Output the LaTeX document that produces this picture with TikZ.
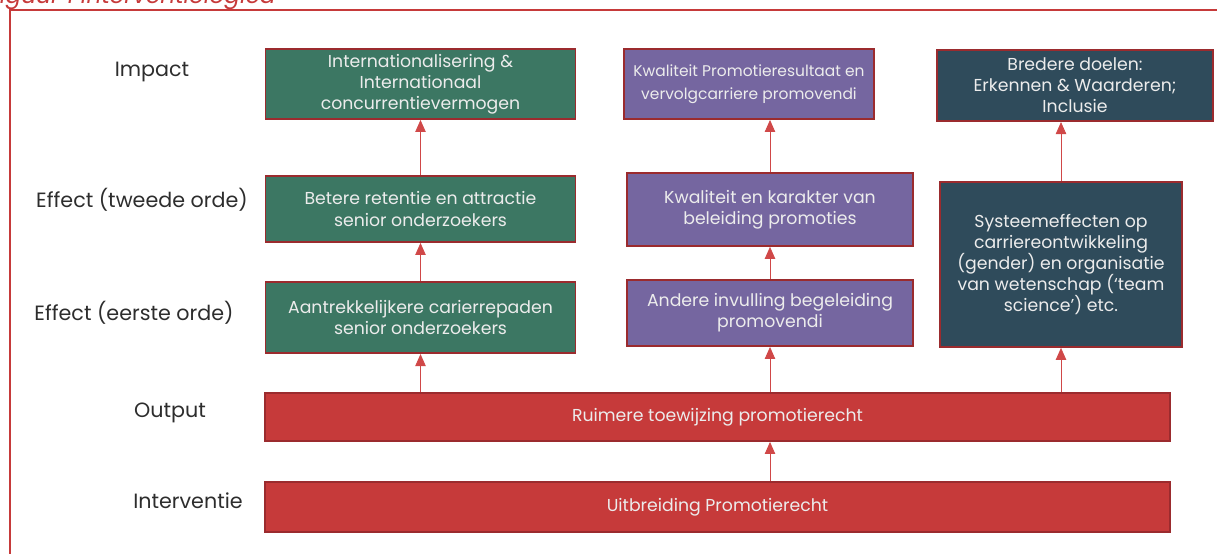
\documentclass[tikz,border=0pt]{standalone}
\usepackage{fontspec}
\setmainfont{Poppins}
\usetikzlibrary{arrows.meta}
\definecolor{grn}{RGB}{60, 119, 99}
\definecolor{prp}{RGB}{117, 102, 160}
\definecolor{drk}{RGB}{47, 75, 91}
\definecolor{rd}{RGB}{198, 58, 58}
\definecolor{rim}{RGB}{155, 43, 46}
\definecolor{lnk}{RGB}{208, 72, 72}
\definecolor{txt}{RGB}{236, 236, 236}
\definecolor{lbl}{RGB}{45, 45, 45}

\tikzset{
    box/.style={draw=rim, line width=1.3pt, text=txt, align=center, inner sep=0pt,
        font=\fontsize{12.3}{15}\selectfont},
    lvl/.style={text=lbl, font=\fontsize{14.7}{17}\selectfont},
    up/.style={draw=lnk, line width=0.6pt, -{Triangle[length=3mm, width=2.6mm]}}
}

\begin{document}
\begin{tikzpicture}[x=0.025cm, y=-0.025cm]
        \useasboundingbox (0, 0) rectangle (1217, 553);
        % frame and caption
        \draw[rd, line width=1.2pt] (10, 580) -- (10, 10) -- (1240, 10);
        \node[anchor=base west, text=rd, inner sep=0pt, font=\fontsize{16.5}{18}\selectfont\itshape] (cap) at (-12, 3) {Figuur 1 Interventielogica};

        % levels
        \node[lvl] (limp) at (152, 72) {Impact};
        \node[lvl] (leff2) at (142, 200) {Effect (tweede orde)};
        \node[lvl] (leff1) at (134, 313) {Effect (eerste orde)};
        \node[lvl] (lout) at (170, 413) {Output};
        \node[lvl] (lint) at (188, 501) {Interventie};

        % bottom bars
        \node[box, fill=rd, minimum width=22.6cm, minimum height=1.25cm] (interv) at (717.5, 507) {Uitbreiding Promotierecht};
        \node[box, fill=rd, minimum width=22.6cm, minimum height=1.2cm] (output) at (717.5, 417) {Ruimere toewijzing promotierecht};

        % green column
        \node[box, fill=grn, minimum width=7.75cm, minimum height=1.78cm] (gr1) at (420.5, 317.5) {Aantrekkelijkere carierrepaden\\senior onderzoekers};
        \node[box, fill=grn, minimum width=7.75cm, minimum height=1.65cm] (gr2) at (420.5, 209) {Betere retentie en attractie\\senior onderzoekers};
        \node[box, fill=grn, minimum width=7.75cm, minimum height=1.75cm] (gr3) at (420.5, 84) {Internationalisering \&\\Internationaal\\concurrentievermogen};

        % purple column
        \node[box, fill=prp, minimum width=7.15cm, minimum height=1.65cm] (pr1) at (770, 313) {Andere invulling begeleiding\\promovendi};
        \node[box, fill=prp, minimum width=7.15cm, minimum height=1.82cm] (pr2) at (770, 209.5) {Kwaliteit en karakter van\\beleiding promoties};
        \node[box, fill=prp, minimum width=6.25cm, minimum height=1.75cm, font=\fontsize{11}{16}\selectfont] (pr3) at (749, 84) {Kwaliteit Promotieresultaat en\\vervolgcarriere promovendi};

        % dark column
        \node[box, fill=drk, minimum width=6.05cm, minimum height=4.12cm] (dk1) at (1061, 264.5) {Systeemeffecten op\\carriereontwikkeling\\(gender) en organisatie\\van wetenschap (‘team\\science’) etc.};
        \node[box, fill=drk, minimum width=6.9cm, minimum height=1.78cm] (dk2) at (1075, 85.5) {Bredere doelen:\\Erkennen \& Waarderen;\\Inclusie};

        % arrows
        \draw[up] (interv.north -| pr1) -- (output.south -| pr1);
        \draw[up] (output.north -| gr1) -- (gr1);
        \draw[up] (gr1) -- (gr2);
        \draw[up] (gr2) -- (gr3);
        \draw[up] (output.north -| pr1) -- (pr1);
        \draw[up] (pr1) -- (pr2);
        \draw[up] (pr2.north) -- (pr3.south -| pr2);
        \draw[up] (output.north -| dk1) -- (dk1);
        \draw[up] (dk1.north) -- (dk2.south -| dk1);
    \end{tikzpicture}
\end{document}
